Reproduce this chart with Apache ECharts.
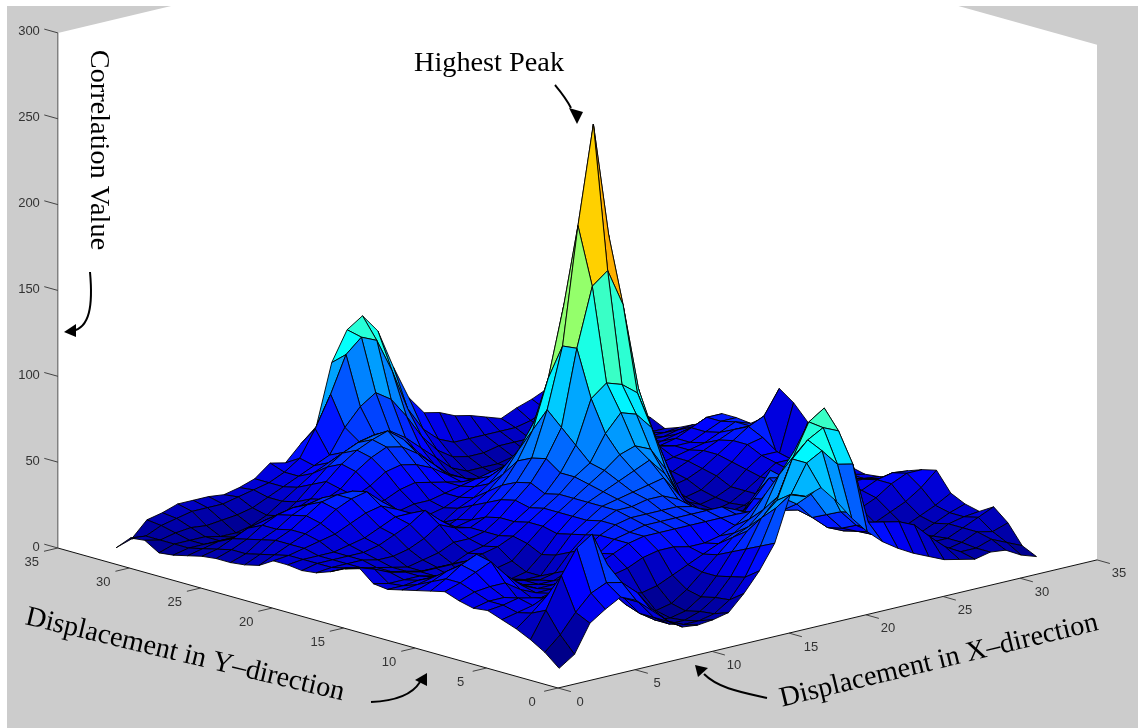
<!DOCTYPE html>
<html><head><meta charset="utf-8">
<style>html,body{margin:0;padding:0;background:#fff}#c{width:1138px;height:728px}</style>
<script src="https://cdn.jsdelivr.net/npm/echarts@6/dist/echarts.min.js"></script>
</head><body><div id="c"></div>
<script>
const xValues=[1,2,3,4,5,6,7,8,9,10,11,12,13,14,15,16,17,18,19,20,21,22,23,24,25,26,27,28,29,30,31,32];
const yValues=xValues.slice();
const xTicks=[0,5,10,15,20,25,30,35];
const yTicks=[0,5,10,15,20,25,30,35];
const zTicks=[0,50,100,150,200,250,300];
// correlation value: one row per y (1..32), one entry per x (1..32)
const y01=[7,13,29,35,40,36,28,20,14,13,14,16,25,36,50,76,73,76,66,54,44,36,30,25,21,17,15,13,15,14,9,6];
const y02=[14,22,33,42,46,44,36,24,15,11,11,13,19,30,46,66,72,88,93,83,81,45,43,41,37,28,20,15,15,18,14,10];
const y03=[19,34,52,66,72,52,38,26,15,9,9,12,18,28,42,58,66,88,97,102,98,50,40,36,30,28,20,14,16,20,18,21];
const y04=[23,30,38,36,36,38,36,26,15,9,8,10,16,26,38,48,54,64,85,103,109,70,44,34,28,24,20,16,16,20,24,28];
const y05=[26,28,30,32,32,34,34,28,18,12,10,12,18,26,34,42,46,54,72,84,88,62,42,32,26,22,18,14,15,20,22,23];
const y06=[29,30,32,30,28,30,30,30,24,20,18,20,24,28,32,36,40,46,58,66,68,52,38,28,24,20,16,14,14,18,22,25];
const y07=[28,30,30,26,24,26,28,32,30,28,30,34,36,36,34,34,36,40,46,50,50,44,34,26,22,20,17,15,16,20,24,29];
const y08=[30,33,34,34,28,24,24,28,30,32,36,40,42,42,42,42,42,42,42,40,40,38,36,30,26,24,20,18,22,26,32,40];
const y09=[33,36,40,44,34,26,22,22,24,28,34,40,42,44,44,44,44,44,44,40,36,42,44,40,32,28,24,24,28,34,38,38];
const y10=[31,36,42,46,36,28,22,20,20,24,34,40,44,46,46,46,46,44,38,30,30,40,50,48,38,30,28,28,30,34,36,35];
const y11=[29,32,36,38,32,26,22,20,18,20,30,38,44,48,48,50,50,46,36,24,22,28,38,50,40,32,30,30,32,32,30,29];
const y12=[27,28,30,30,28,24,20,18,16,16,26,36,42,48,50,52,54,56,44,26,18,17,18,22,26,28,30,32,32,30,28,27];
const y13=[25,25,26,26,24,22,18,16,14,16,24,34,42,48,52,56,60,64,54,36,22,16,13,13,16,18,24,32,34,30,28,26];
const y14=[26,24,24,24,22,20,18,18,18,20,28,36,42,48,54,60,67,70,66,52,32,20,14,13,14,16,22,30,32,32,30,28];
const y15=[33,30,26,24,22,22,22,22,24,26,30,36,42,48,56,62,77,87,84,74,50,30,18,14,14,16,20,26,30,30,28,30];
const y16=[30,28,24,22,20,18,18,18,22,24,28,34,40,46,56,70,95,102,99,92,68,40,24,16,13,15,20,26,32,32,30,34];
const y17=[26,26,24,22,20,18,20,22,26,26,28,34,42,50,62,78,122,156,163,141,90,55,32,18,14,16,20,28,34,34,26,47];
const y18=[23,24,24,24,22,22,24,28,34,30,28,32,40,48,60,86,121,189,246,179,88,50,30,20,16,18,24,30,38,40,26,56];
const y19=[22,24,24,24,24,26,30,34,40,32,26,28,36,44,56,72,100,140,170,130,78,44,28,20,20,22,26,32,38,44,48,62];
const y20=[23,24,24,24,26,28,32,36,36,28,22,26,32,38,46,58,72,95,110,90,60,36,26,22,22,24,28,32,36,40,40,43];
const y21=[23,24,26,28,30,34,38,40,36,26,20,22,28,32,38,46,54,66,74,66,46,30,24,22,24,26,28,30,32,36,40,37];
const y22=[18,22,26,30,34,40,44,46,38,28,22,24,26,30,34,38,42,48,50,46,36,26,22,24,28,30,32,30,30,34,38,38];
const y23=[16,20,26,30,36,42,44,44,36,28,26,28,28,30,32,34,36,36,34,28,24,22,24,28,32,34,32,28,30,34,38,38];
const y24=[15,18,24,28,34,38,40,38,32,28,30,34,36,34,32,30,28,28,26,26,26,26,28,30,30,30,26,24,26,28,30,30];
const y25=[15,18,22,28,32,34,34,32,30,32,36,42,44,42,38,32,28,24,22,20,20,22,24,26,26,26,24,22,24,24,26,27];
const y26=[14,16,20,24,26,28,28,28,30,34,42,48,52,50,44,36,28,22,18,16,16,18,20,22,22,22,22,22,22,22,22,23];
const y27=[12,14,16,16,18,20,22,24,28,36,44,50,54,57,50,40,30,22,16,13,12,14,16,18,18,18,20,20,20,20,20,20];
const y28=[10,12,12,12,12,12,14,18,24,32,40,46,50,52,48,42,34,26,18,14,12,12,14,14,16,18,20,22,22,22,24,24];
const y29=[9,12,12,12,10,10,12,16,22,28,34,38,42,46,48,48,42,34,26,18,14,14,14,16,16,18,20,22,22,24,26,26];
const y30=[14,12,14,15,14,15,16,18,22,26,30,34,38,52,62,68,62,50,36,26,20,18,18,20,20,20,22,24,24,24,26,26];
const y31=[13,12,16,18,20,20,20,22,24,26,30,36,51,69,90,98,94,74,50,36,28,24,24,24,24,24,26,30,30,28,26,25];
const y32=[5,8,17,19,22,22,22,21,23,26,33,31,40,48,83,100,106,95,72,52,41,39,35,33,30,27,31,34,38,30,27,25];
const surface=[y01,y02,y03,y04,y05,y06,y07,y08,y09,y10,y11,y12,y13,y14,y15,y16,y17,y18,y19,y20,y21,y22,y23,y24,y25,y26,y27,y28,y29,y30,y31,y32];

const colorMin=5,colorMax=230;
function jet(v){
  const t=Math.max(0,Math.min(1,(v-colorMin)/(colorMax-colorMin)));
  const f=c=>Math.round(255*Math.max(0,Math.min(1,1.5-Math.abs(4*t-c))));
  return 'rgb('+f(3)+','+f(2)+','+f(1)+')';
}
// orthographic view of the 3-D box onto the page
function view(x,y,z){return [558+15.4*x-14.29*y, 688-3.66*x-4*y-1.717*z];}

const chart=echarts.init(document.getElementById('c'),null,{renderer:'canvas'});
const cells=[];
for(let i=xValues.length-2;i>=0;i--)for(let j=yValues.length-2;j>=0;j--)cells.push([i,j]);

function renderCell(params,api){
  const i=api.value(0),j=api.value(1);
  const p=(a,b)=>api.coord(view(xValues[a],yValues[b],surface[b][a]));
  return {type:'polygon',shape:{points:[p(i,j),p(i+1,j),p(i+1,j+1),p(i,j+1)]},
    style:{fill:jet(surface[j][i]),stroke:'#000',lineWidth:0.9},silent:true};
}
function renderFrame(params,api){
  const c=(x,y,z)=>api.coord(view(x,y,z));
  const xM=xTicks[xTicks.length-1],yM=yTicks[yTicks.length-1],zM=zTicks[zTicks.length-1];
  const kids=[
    {type:'rect',shape:{x:7,y:6,width:1131,height:722},style:{fill:'#cccccc'}},
    {type:'polygon',shape:{points:[c(0,yM,zM),c(xM,yM,zM),c(xM,0,zM),c(xM,0,0),c(0,0,0),c(0,yM,0)]},style:{fill:'#fff'}},
    {type:'rect',shape:{x:0,y:0,width:1138,height:6},style:{fill:'#fff'}},
    {type:'rect',shape:{x:0,y:0,width:7,height:728},style:{fill:'#fff'}},
    {type:'polyline',shape:{points:[c(0,yM,0),c(0,0,0),c(xM,0,0)]},style:{stroke:'#111',lineWidth:1,fill:null}},
    {type:'line',shape:{x1:c(0,yM,0)[0],y1:c(0,yM,0)[1],x2:c(0,yM,zM)[0],y2:c(0,yM,zM)[1]},style:{stroke:'#555',lineWidth:1}}
  ];
  const lab=(t,pt,dx,dy,align)=>kids.push({type:'text',style:{text:String(t),x:pt[0]+dx,y:pt[1]+dy,align:align||'center',verticalAlign:'middle',fill:'#333',font:'13px "Liberation Sans"'}});
  const tick=(a,b)=>kids.push({type:'line',shape:{x1:a[0],y1:a[1],x2:b[0],y2:b[1]},style:{stroke:'#333',lineWidth:0.9}});
  yTicks.forEach(t=>{const a=c(0,t,0);tick(a,c(-0.9,t,0));lab(t,a,-26,14);});
  xTicks.forEach(t=>{const a=c(t,0,0);tick(a,c(t,-0.9,0));lab(t,a,22,14);});
  zTicks.forEach(t=>{const a=c(0,yM,t);tick(a,c(0,yM+0.95,t));lab(t,a,-18,-1,'right');});
  return {type:'group',children:kids,silent:true};
}
function word(text,x,y,rot){return {type:'text',x:x,y:y,rotation:rot,silent:true,z:100,
  style:{text:text,fill:'#000',align:'center',verticalAlign:'middle',font:'28.3px "Liberation Serif"'}};}
function arrow(pts,tip,a,b){return [
  {type:'bezierCurve',silent:true,z:100,shape:{x1:pts[0],y1:pts[1],cpx1:pts[2],cpy1:pts[3],cpx2:pts[4],cpy2:pts[5],x2:pts[6],y2:pts[7]},style:{stroke:'#000',lineWidth:2,fill:null}},
  {type:'polygon',silent:true,z:100,shape:{points:[tip,a,b]},style:{fill:'#000'}}
];}
chart.setOption({
  animation:false,
  grid:{left:0,right:0,top:0,bottom:0},
  xAxis:{type:'value',min:0,max:1138,show:false},
  yAxis:{type:'value',min:0,max:728,inverse:true,show:false},
  series:[
    {type:'custom',coordinateSystem:'cartesian2d',clip:false,data:[[0]],renderItem:renderFrame,z:1},
    {type:'custom',coordinateSystem:'cartesian2d',clip:false,data:cells,renderItem:renderCell,z:2,encode:{x:0,y:1}}
  ],
  graphic:{elements:[
    word('Highest Peak',489,64,0),
    word('Correlation Value',98,150,-Math.PI/2),
    word('Displacement in Y\u2013direction',185,655,-13.5*Math.PI/180),
    word('Displacement in X\u2013direction',939,661,13.6*Math.PI/180),
    ...arrow([555,85,560,91,566,98,571,108],[577,124],[569,108],[583,112]),
    ...arrow([90,272,93,305,90,328,72,331],[64,332],[76,324],[76,337]),
    ...arrow([371,702,395,701,412,695,420,682],[427,673],[415,680],[427,686]),
    ...arrow([767,698,740,692,718,688,704,674],[695,665],[708,668],[698,677])
  ]}
});
</script></body></html>
